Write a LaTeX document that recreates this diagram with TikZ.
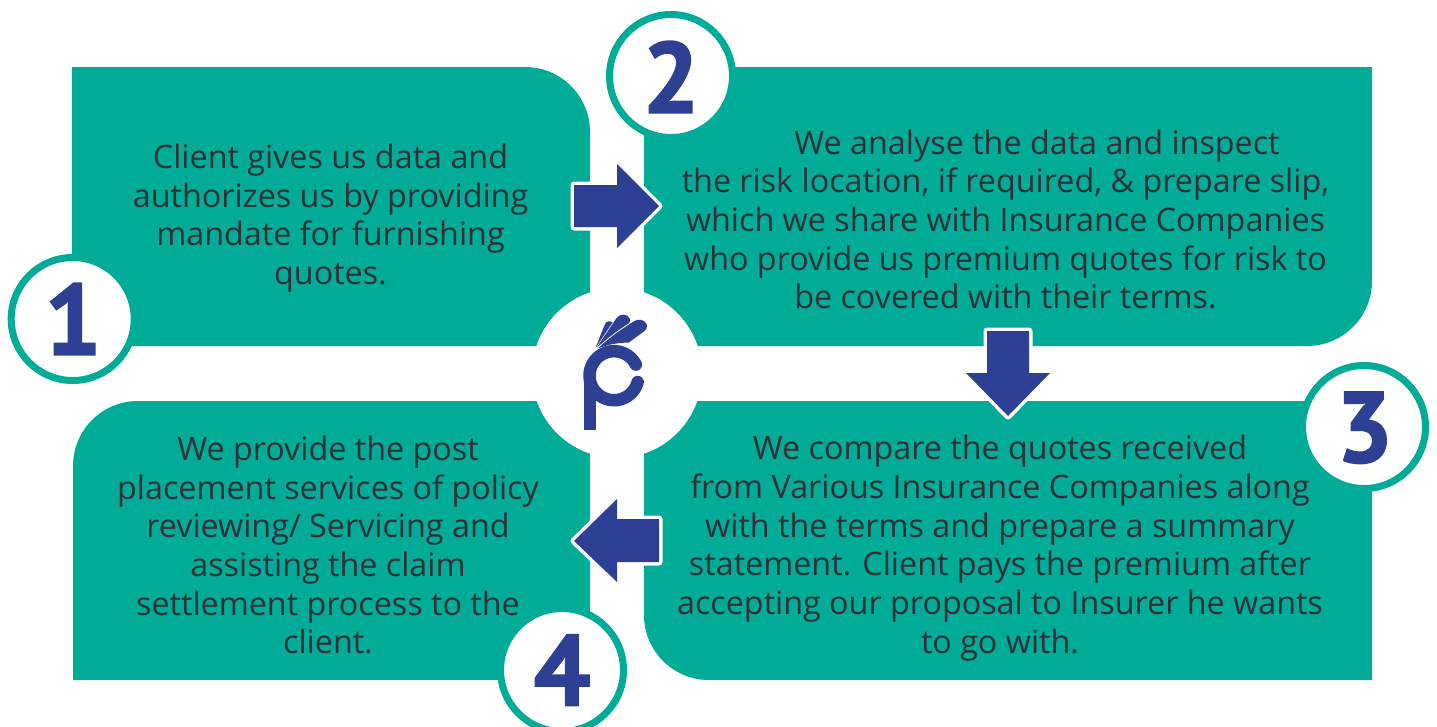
\documentclass[tikz,border=0pt]{standalone}
\usepackage{fontspec}
\setmainfont{Open Sans}
\newfontfamily\digitfont{PT Sans}[BoldFeatures={FakeBold=2}]
\definecolor{teal1}{HTML}{00AB97}
\definecolor{blue1}{HTML}{2E4093}
\definecolor{ink}{HTML}{2F3038}
\tikzset{
  panel/.style={fill=teal1,draw=none},
  ring/.style={circle,draw=teal1,fill=white,line width=7pt,minimum size=123pt,inner sep=0pt},
  digit/.style={font=\digitfont\bfseries\fontsize{100}{100}\selectfont,text=blue1,inner sep=0pt,text depth=0pt},
  body/.style={font=\fontsize{32.3}{38.7}\selectfont,text=ink,align=center,inner sep=0pt},
  arrowshape/.style={preaction={draw=white,line width=7pt,line join=round},fill=blue1},
  logo/.style={fill=blue1,draw=none},
}
\begin{document}
\begin{tikzpicture}[x=1pt,y=-1pt]
\useasboundingbox (0,0) rectangle (1437,726);
\fill[white] (0,0) rectangle (1437,726);
% panels
\fill[panel] (72,67) -- (525,67) .. controls (561,67) and (590,96) .. (590,132) -- (590,346) -- (72,346) -- cycle;
\fill[panel] (644,67) -- (1372,67) -- (1372,281) .. controls (1372,317) and (1343,346) .. (1307,346) -- (644,346) -- cycle;
\fill[panel] (644,401) -- (1372,401) -- (1372,680) -- (709,680) .. controls (673,680) and (644,651) .. (644,615) -- cycle;
\fill[panel] (138,401) -- (590,401) -- (590,680) -- (73,680) -- (73,466) .. controls (73,430) and (102,401) .. (138,401) -- cycle;
% centre disc
\node[circle,fill=white,minimum size=170pt,inner sep=0pt] (hub) at (617,373) {};
% logo
\begin{scope}[shift={(570,305)},x=0.3333pt,y=-0.3333pt]
\fill[logo] (76,130) -- (105,57) .. controls (108,48) and (120,47) .. (128,52) -- cycle;
\fill[logo] (80,128) -- (139,40) .. controls (150,24) and (172,26) .. (179,40) .. controls (182,47) and (180,52) .. (176,55) .. controls (140,78) and (110,102) .. cycle;
\fill[logo] (84,130) .. controls (115,100) and (155,72) .. (190,50) .. controls (205,38) and (225,44) .. (231,60) .. controls (233,68) and (228,74) .. (222,79) -- (176,113) .. controls (150,112) and (115,118) .. cycle;
\end{scope}
\fill[logo] (584,375) rectangle (596,429.5);
\draw[blue1,line width=12.5pt,line cap=round] plot[domain=27:345,samples=70] ({614+24.5*cos(\x)},{375.7-24.5*sin(\x)});
% block arrows
\path[arrowshape] (574,185) -- (617,185) -- (617,164) -- (659,206) -- (617,248) -- (617,227) -- (574,227) -- cycle;
\path[arrowshape] (987,331) -- (1029,331) -- (1029,373) -- (1050,373) -- (1008,416) -- (966,373) -- (987,373) -- cycle;
\path[arrowshape] (659,519) -- (617,519) -- (617,499) -- (574,541) -- (617,582) -- (617,562) -- (659,562) -- cycle;
% number rings
\node[ring] (r1) at (72.7,319) {};
\node[ring] (r2) at (671,76) {};
\node[ring] (r3) at (1364,427) {};
\node[ring] (r4) at (562,670) {};
\node[digit] (d1) at (73,319) {1};
\node[digit] (d2) at (671,77) {2};
\node[digit] (d3) at (1364.5,427) {3};
\node[digit] (d4) at (562,670) {4};
% texts
\node[body] (t1) at (330.5,218) {Client gives us data and\\authorizes us by providing\\mandate for furnishing\\quotes.};
\node[body] (t2) at (1005.5,219.5) {\hspace*{63pt}We analyse the data and inspect\\the risk location, if required, \& prepare slip,\\which we share with Insurance Companies\\who provide us premium quotes for risk to\\be covered with their terms.};
\node[body] (t3) at (1000,548) {We compare the quotes received\\from Various Insurance Companies along\\with the terms and prepare a summary\\statement. Client pays the premium after\\accepting our proposal to Insurer he wants\\to go with.};
\node[body] (t4) at (328,545) {We provide the post\\placement services of policy\\reviewing/ Servicing and\\assisting the claim\\settlement process to the\\client.};
\end{tikzpicture}
\end{document}
